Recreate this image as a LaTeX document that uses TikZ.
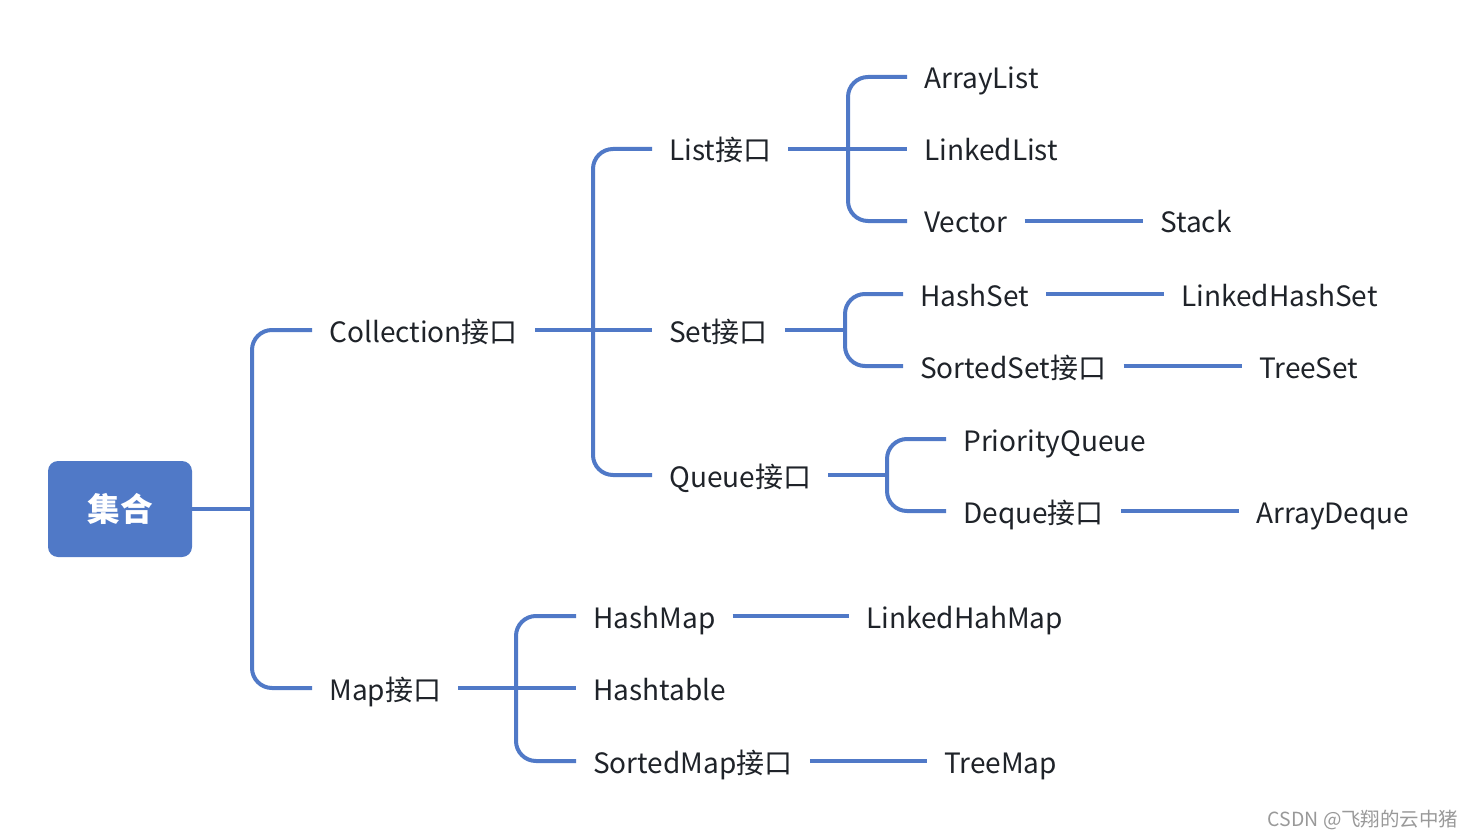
\documentclass[tikz,border=0pt]{standalone}
\usepackage{fontspec}
\setmainfont{Noto Sans CJK SC}
\definecolor{mainblue}{RGB}{80,121,199}
\definecolor{txt}{RGB}{31,35,41}
\begin{document}
\begin{tikzpicture}[x=0.75pt,y=-0.75pt,
  conn/.style={draw=mainblue,line width=3pt,rounded corners=15pt},
  lbl/.style={anchor=west,inner xsep=12.75pt,inner ysep=0pt,text=txt,font=\fontsize{21}{24}\selectfont,text height=1.9em,text depth=0.1em},
  rootbox/.style={fill=mainblue,rounded corners=7.5pt,minimum width=108pt,minimum height=72pt,text=white,font=\fontsize{24.5}{28}\selectfont\bfseries}]
\useasboundingbox (0,0) rectangle (1474,838);
% trunk coordinates
\coordinate (t1) at (252,0);
\coordinate (t2) at (593,0);
\coordinate (t3) at (848,0);
\coordinate (t4) at (845,0);
\coordinate (t5) at (887,0);
\coordinate (t6) at (516,0);
% nodes
\node[rootbox] (root) at (120,509) {集合};
\node[lbl] (coll) at (312,330) {Collection接口};
\node[lbl] (map) at (312,688) {Map接口};
\node[lbl] (list) at (652,149) {List接口};
\node[lbl] (set) at (652,330) {Set接口};
\node[lbl] (queue) at (652,475) {Queue接口};
\node[lbl] (arraylist) at (907,77) {ArrayList};
\node[lbl] (linkedlist) at (907,149) {LinkedList};
\node[lbl] (vector) at (907,221) {Vector};
\node[lbl] (stack) at (1143,221) {Stack};
\node[lbl] (hashset) at (903,294) {HashSet};
\node[lbl] (sortedset) at (903,366) {SortedSet接口};
\node[lbl] (linkedhashset) at (1164,294) {LinkedHashSet};
\node[lbl] (treeset) at (1242,366) {TreeSet};
\node[lbl] (pq) at (946,439) {PriorityQueue};
\node[lbl] (deque) at (946,511) {Deque接口};
\node[lbl] (arraydeque) at (1239,511) {ArrayDeque};
\node[lbl] (hashmap) at (576,616) {HashMap};
\node[lbl] (hashtable) at (576,688) {Hashtable};
\node[lbl] (sortedmap) at (576,761) {SortedMap接口};
\node[lbl] (linkedhahmap) at (849,616) {LinkedHahMap};
\node[lbl] (treemap) at (927,761) {TreeMap};
\node[text=black!40,font=\fontsize{14.6}{17}\selectfont] (wm) at (1363,820) {CSDN @飞翔的云中猪};
% connectors
\draw[conn] (root.east) -- (root.east -| t1);
\draw[conn] (coll.west) -- (coll.west -| t1) -- (map.west -| t1) -- (map.west);
\draw[conn] (coll.east) -- (set.west);
\draw[conn] (list.west) -- (list.west -| t2) -- (queue.west -| t2) -- (queue.west);
\draw[conn] (map.east) -- (hashtable.west);
\draw[conn] (hashmap.west) -- (hashmap.west -| t6) -- (sortedmap.west -| t6) -- (sortedmap.west);
\draw[conn] (list.east) -- (linkedlist.west);
\draw[conn] (arraylist.west) -- (arraylist.west -| t3) -- (vector.west -| t3) -- (vector.west);
\draw[conn] (set.east) -- (set.east -| t4);
\draw[conn] (hashset.west) -- (hashset.west -| t4) -- (sortedset.west -| t4) -- (sortedset.west);
\draw[conn] (queue.east) -- (queue.east -| t5);
\draw[conn] (pq.west) -- (pq.west -| t5) -- (deque.west -| t5) -- (deque.west);
\draw[conn] (vector.east) -- (stack.west);
\draw[conn] (hashset.east) -- (linkedhashset.west);
\draw[conn] (sortedset.east) -- (treeset.west);
\draw[conn] (deque.east) -- (arraydeque.west);
\draw[conn] (hashmap.east) -- (linkedhahmap.west);
\draw[conn] (sortedmap.east) -- (treemap.west);
\end{tikzpicture}
\end{document}
